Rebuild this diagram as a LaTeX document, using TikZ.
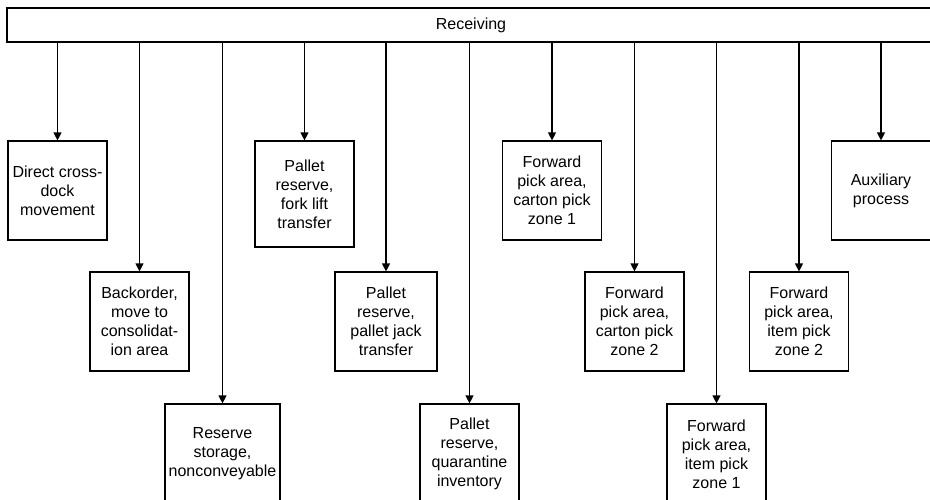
\documentclass[tikz,border=0pt]{standalone}
\usepackage{fontspec}
\setmainfont{Liberation Sans}
\usetikzlibrary{arrows.meta}

\begin{document}
\begin{tikzpicture}[
  x=1pt, y=-1pt,
  font=\fontsize{16}{19}\selectfont,
  lane/.style={draw, line width=1.2pt, inner sep=0pt},
  box/.style={draw, line width=1.2pt, inner sep=0pt, align=center,
    minimum width=99pt, minimum height=99pt},
  arr/.style={-{Triangle[length=8pt,width=8pt]}, line width=1.2pt}
]
  \useasboundingbox (0,0) rectangle (930,499);

  \node[lane, minimum width=928pt, minimum height=34pt] (recv) at (471,25) {Receiving};

  % first row
  \node[box] (cross) at (57.5,190.5) {Direct cross-\\dock\\movement};
  \node[box, minimum height=106pt] (fork) at (304.5,194) {Pallet\\reserve,\\fork lift\\transfer};
  \node[box] (carton1) at (552,190.5) {Forward\\pick area,\\carton pick\\zone 1};
  \node[box] (aux) at (881,190.5) {Auxiliary\\process};

  % second row
  \node[box] (backord) at (139.5,321.5) {Backorder,\\move to\\consolidat-\\ion area};
  \node[box, minimum width=102pt] (jack) at (386,321.5) {Pallet\\reserve,\\pallet jack\\transfer};
  \node[box] (carton2) at (634.5,321.5) {Forward\\pick area,\\carton pick\\zone 2};
  \node[box] (item2) at (799,321.5) {Forward\\pick area,\\item pick\\zone 2};

  % third row
  \node[box, minimum width=115pt, minimum height=100pt] (store) at (222.5,454) {Reserve\\storage,\\nonconveyable};
  \node[box, minimum height=100pt] (quar) at (469.5,454) {Pallet\\reserve,\\quarantine\\inventory};
  \node[box, minimum height=100pt] (item1) at (716.5,454) {Forward\\pick area,\\item pick\\zone 1};

  \foreach \t in {cross,backord,store,fork,jack,quar,carton1,carton2,item1,item2,aux}
    \draw[arr] (recv.south -| \t.north) -- (\t.north);
\end{tikzpicture}
\end{document}
